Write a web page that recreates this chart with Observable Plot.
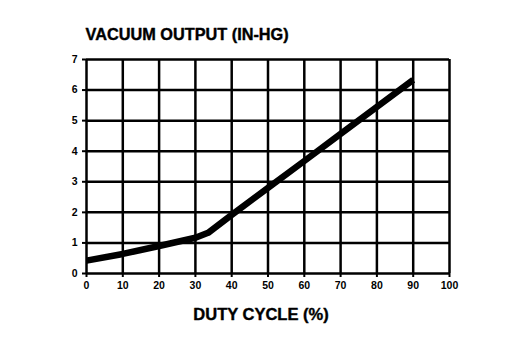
<!DOCTYPE html>
<html>
<head>
<meta charset="utf-8">
<script src="https://cdn.jsdelivr.net/npm/d3@7"></script>
<script src="https://cdn.jsdelivr.net/npm/@observablehq/plot@0.6"></script>
<style>
  html, body { margin: 0; padding: 0; background: #fff; }
  svg { display: block; }
</style>
</head>
<body>
<div id="chart"></div>
<script>
const dutyCycle = [0, 10, 20, 30, 33.5, 40, 50, 60, 70, 80, 90];
const vacuum = [0.42, 0.64, 0.9, 1.17, 1.33, 1.92, 2.8, 3.68, 4.57, 5.45, 6.33];
const xTicks = [0, 10, 20, 30, 40, 50, 60, 70, 80, 90, 100];
const yTicks = [0, 1, 2, 3, 4, 5, 6, 7];
const title = "VACUUM OUTPUT (IN-HG)";
const xTitle = "DUTY CYCLE (%)";

const data = dutyCycle.map((d, i) => ({x: d, y: vacuum[i]}));

const font = "'Liberation Sans', Arial, sans-serif";

const chart = Plot.plot({
  width: 512,
  height: 356,
  marginLeft: 86,
  marginRight: 63,
  marginTop: 59,
  marginBottom: 83,
  style: {fontFamily: font, fontWeight: "bold", fontSize: "10px", color: "#000", background: "#fff"},
  x: {domain: [0, 100], ticks: xTicks, label: null},
  y: {domain: [0, 7], ticks: yTicks, label: null},
  marks: [
    Plot.gridX(xTicks, {stroke: "#000", strokeOpacity: 1, strokeWidth: 2.5}),
    Plot.gridY(yTicks, {stroke: "#000", strokeOpacity: 1, strokeWidth: 2.5}),
    Plot.axisX({ticks: xTicks, tickFormat: "d", tickSize: 4, tickPadding: 4, strokeWidth: 2, fontWeight: "bold", fontSize: 10.5}),
    Plot.axisY({ticks: yTicks, tickFormat: "d", tickSize: 4, tickPadding: 5, strokeWidth: 2, fontWeight: "bold", fontSize: 10.5}),
    Plot.line(data, {x: "x", y: "y", stroke: "#000", strokeWidth: 6.5, strokeLinejoin: "round", strokeLinecap: "butt"}),
    Plot.text([title], {frameAnchor: "top-left", text: d => d, dx: -1, dy: -31, fontSize: 16.3, fontWeight: 900, textAnchor: "start", fill: "#000", stroke: "#000", strokeWidth: 0.4}),
    Plot.text([xTitle], {frameAnchor: "bottom", text: d => d, dx: -7, dy: 46, fontSize: 16.5, fontWeight: 900, fill: "#000", stroke: "#000", strokeWidth: 0.4})
  ]
});
document.getElementById("chart").appendChild(chart);
</script>
</body>
</html>
